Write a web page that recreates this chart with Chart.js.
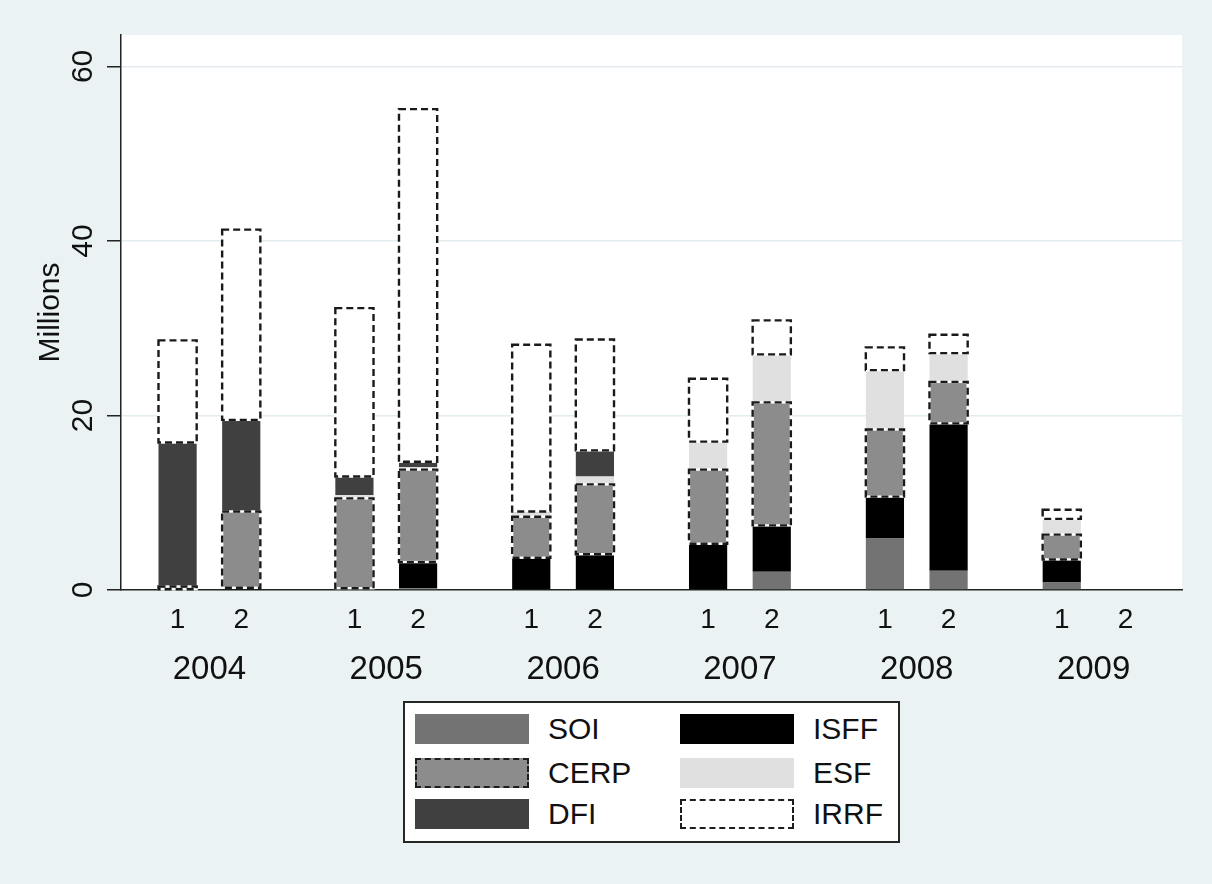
<!DOCTYPE html>
<html>
<head>
<meta charset="utf-8">
<script src="https://cdn.jsdelivr.net/npm/chart.js@4.4.1/dist/chart.umd.min.js"></script>
<style>
  html, body { margin: 0; padding: 0; background: #eaf2f3; }
  #wrap { position: relative; width: 1212px; height: 884px; background: #eaf2f3;
          font-family: "Liberation Sans", Arial, sans-serif; overflow: hidden; }
  #c { position: absolute; left: 0; top: 0; }
  #legend { position: absolute; left: 403px; top: 701px; width: 493px; height: 138px;
            border: 2px solid #262626; background: #fff; }
  .item { position: absolute; display: flex; align-items: center; height: 30px; }
  .sw { width: 114px; height: 30px; box-sizing: border-box; }
  .lab { font-size: 30px; color: #111; margin-left: 19px; line-height: 30px; }
</style>
</head>
<body>
<div id="wrap">
  <canvas id="c" width="1212" height="884"></canvas>
  <div id="legend"></div>
</div>
<script>
// ---- data (millions), order: 2004-1, 2004-2, 2005-1, ... 2009-2 ----
const years  = ['2004', '2005', '2006', '2007', '2008', '2009'];
const halves = ['1', '2'];
const SOI  = [0,    0,    0,    0.2,  0,    0,    0,    2.1,  5.9,  2.2,  0.85, 0];
const ISFF = [0,    0.25, 0.2,  3.0,  3.7,  4.1,  5.3,  5.3,  4.8,  16.9, 2.65, 0];
const CERP = [0.4,  8.75, 10.3, 10.6, 4.7,  8.0,  8.5,  14.1, 7.7,  4.75, 2.85, 0];
const ESF  = [0,    0,    0.4,  0.3,  0.45, 0.9,  3.2,  5.5,  6.8,  3.3,  1.8,  0];
const DFI  = [16.5, 10.5, 2.1,  0.6,  0.15, 3.0,  0,    0,    0,    0,    0,    0];
const IRRF = [11.7, 21.8, 19.3, 40.4, 19.1, 12.7, 7.2,  3.9,  2.6,  2.1,  1.05, 0];
const yTicksStep = 20;
const yMax = 63.6;

// ---- styling ----
const FONT = "'Liberation Sans', Arial, sans-serif";
Chart.defaults.font.family = FONT;
Chart.defaults.color = '#111';
const series = [
  { name: 'SOI',  values: SOI,  color: '#737373', dashed: false },
  { name: 'ISFF', values: ISFF, color: '#000000', dashed: false },
  { name: 'CERP', values: CERP, color: '#8c8c8c', dashed: true  },
  { name: 'ESF',  values: ESF,  color: '#e0e0e0', dashed: false },
  { name: 'DFI',  values: DFI,  color: '#404040', dashed: false },
  { name: 'IRRF', values: IRRF, color: '#ffffff', dashed: true  }
];
const CAT_PCT = 0.72;
const BAR_PCT = 0.6;

const datasets = [];
series.forEach(s => {
  halves.forEach((h, hi) => {
    datasets.push({
      label: s.name,
      data: years.map((_, yi) => s.values[yi * halves.length + hi]),
      stack: 'half' + hi,
      backgroundColor: s.color,
      borderWidth: 0,
      dashed: s.dashed,
      xAxisID: 'x',
      yAxisID: 'y',
      categoryPercentage: CAT_PCT,
      barPercentage: BAR_PCT
    });
  });
});

const bgPlugin = {
  id: 'bgPlugin',
  beforeDraw(chart) {
    const { ctx, chartArea: a } = chart;
    ctx.save();
    ctx.fillStyle = '#eaf2f3';
    ctx.fillRect(0, 0, chart.width, chart.height);
    ctx.fillStyle = '#ffffff';
    ctx.fillRect(a.left, a.top, a.right - a.left, a.bottom - a.top);
    ctx.restore();
  }
};

const dashPlugin = {
  id: 'dashOutline',
  afterDatasetsDraw(chart) {
    const ctx = chart.ctx;
    chart.data.datasets.forEach((ds, di) => {
      if (!ds.dashed) return;
      const meta = chart.getDatasetMeta(di);
      meta.data.forEach((el, i) => {
        if (!ds.data[i]) return;
        const p = el.getProps(['x', 'y', 'base', 'width'], true);
        const l = p.x - p.width / 2, t = Math.min(p.y, p.base), h = Math.abs(p.base - p.y);
        ctx.save();
        ctx.lineWidth = 2.4;
        ctx.strokeStyle = '#ffffff';
        ctx.setLineDash([]);
        ctx.strokeRect(l, t, p.width, h);
        ctx.strokeStyle = '#1a1a1a';
        ctx.setLineDash([7, 4]);
        ctx.strokeRect(l, t, p.width, h);
        ctx.restore();
      });
    });
  }
};

const halfOffset = CAT_PCT / 4;

const chart = new Chart(document.getElementById('c'), {
  type: 'bar',
  data: { labels: years, datasets: datasets },
  plugins: [bgPlugin, dashPlugin],
  options: {
    responsive: false,
    animation: false,
    devicePixelRatio: 1,
    layout: { padding: { left: 0, right: 30, top: 35, bottom: 174 } },
    plugins: { legend: { display: false }, tooltip: { enabled: false } },
    scales: {
      x: {
        type: 'category',
        position: 'bottom',
        stacked: true,
        weight: 1,
        offset: true,
        grid: { display: false, drawTicks: false },
        border: { display: false },
        ticks: { font: { size: 33 }, color: '#111', padding: 2, maxRotation: 0, autoSkip: false },
        afterFit: s => { s.height = 62; }
      },
      xh: {
        type: 'linear',
        position: 'bottom',
        weight: 0,
        min: 0,
        max: years.length,
        offset: false,
        grid: { display: false, drawTicks: false, offset: false },
        border: { display: true, color: '#222', width: 1.5 },
        ticks: {
          font: { size: 28 }, color: '#111', padding: 13, autoSkip: false, maxRotation: 0,
          callback: (v, i) => halves[i % halves.length]
        },
        afterBuildTicks: s => {
          const t = [];
          years.forEach((_, yi) => {
            t.push({ value: yi + 0.5 - halfOffset });
            t.push({ value: yi + 0.5 + halfOffset });
          });
          s.ticks = t;
        },
        afterFit: s => { s.height = 58; }
      },
      y: {
        type: 'linear',
        position: 'left',
        stacked: true,
        min: 0,
        max: yMax,
        ticks: {
          stepSize: yTicksStep, includeBounds: false, minRotation: 90, maxRotation: 90,
          crossAlign: 'center', padding: 7, font: { size: 30 }, color: '#111'
        },
        grid: {
          color: c => (c.tick && c.tick.value === 0) ? 'rgba(0,0,0,0)' : '#e3ecef',
          lineWidth: 1.5, drawTicks: true, tickLength: 14, tickColor: '#222', tickWidth: 1.5
        },
        border: { display: true, color: '#222', width: 1.5 },
        title: { display: true, text: 'Millions', font: { size: 30 }, color: '#111',
                 padding: { top: 33, bottom: 0 } },
        afterFit: s => { s.width = 121; }
      }
    }
  }
});

// ---- HTML legend built from the series definitions ----
const legendEl = document.getElementById('legend');
const colX = [10, 275];
const rowY = [11, 55, 96];
series.forEach((s, k) => {
  const item = document.createElement('div');
  item.className = 'item';
  item.style.left = colX[k % 2] + 'px';
  item.style.top = rowY[Math.floor(k / 2)] + 'px';
  const sw = document.createElement('div');
  sw.className = 'sw';
  sw.style.background = s.color;
  sw.style.border = s.dashed ? '2px dashed #1e1e1e' : '1px solid ' + s.color;
  const lab = document.createElement('span');
  lab.className = 'lab';
  lab.textContent = s.name;
  item.appendChild(sw);
  item.appendChild(lab);
  legendEl.appendChild(item);
});
</script>
</body>
</html>
